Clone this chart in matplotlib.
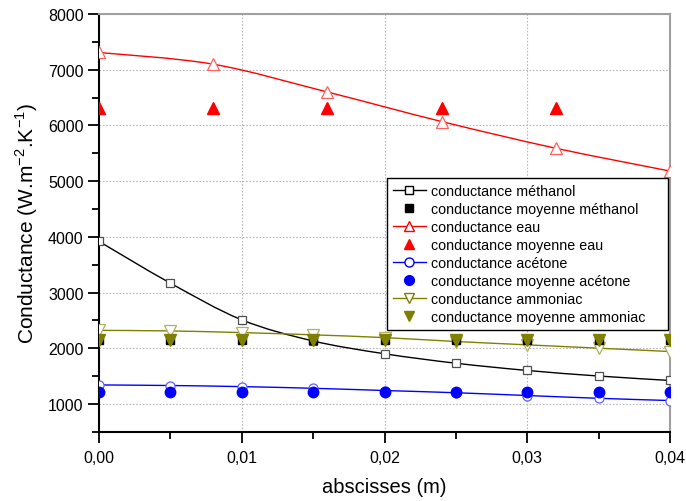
import numpy as np
import matplotlib
matplotlib.use("Agg")
import matplotlib.pyplot as plt
from matplotlib.path import Path
from matplotlib.patches import PathPatch
from matplotlib.lines import Line2D
from matplotlib.ticker import MultipleLocator, FuncFormatter

plt.rcParams['font.family'] = ['Liberation Sans', 'DejaVu Sans']

# ---- data ----
x_eau = [0.0, 0.008, 0.016, 0.024, 0.032, 0.04]
eau = [7310, 7100, 6600, 6070, 5590, 5180]
eau_moy = [6320, 6320, 6320, 6320, 6320]
x_eau_moy = [0.0, 0.008, 0.016, 0.024, 0.032]

x_std = [0.0, 0.005, 0.01, 0.015, 0.02, 0.025, 0.03, 0.035, 0.04]
methanol = [3920, 3170, 2510, 2130, 1900, 1730, 1600, 1500, 1420]
methanol_moy = [2150] * 9
acetone = [1340, 1330, 1310, 1280, 1240, 1200, 1150, 1100, 1060]
acetone_moy = [1220] * 9
ammoniac = [2320, 2310, 2280, 2240, 2190, 2120, 2060, 2000, 1940]
ammoniac_moy = [2150] * 9

labels = ["conductance méthanol", "conductance moyenne méthanol",
          "conductance eau", "conductance moyenne eau",
          "conductance acétone", "conductance moyenne acétone",
          "conductance ammoniac", "conductance moyenne ammoniac"]


def smooth_path(xs, ys):
    P = np.column_stack([xs, ys]).astype(float)
    n = len(P)
    verts = [P[0]]
    codes = [Path.MOVETO]
    for i in range(n - 1):
        p0 = P[i - 1] if i > 0 else P[i]
        p1 = P[i]
        p2 = P[i + 1]
        p3 = P[i + 2] if i + 2 < n else P[i + 1]
        c1 = p1 + (p2 - p0) / 6.0
        c2 = p2 - (p3 - p1) / 6.0
        verts += [c1, c2, p2]
        codes += [Path.CURVE4] * 3
    return Path(verts, codes)


fig = plt.figure(figsize=(6.86, 5.02), dpi=100)
fig.patch.set_facecolor('white')
ax = fig.add_axes([0.144, 0.138, 0.833, 0.832])

BLK = '#000000'
RED = '#ff0000'
BLU = '#0000ff'
OLV = '#808000'

series = [
    (x_std, methanol, BLK, 's', '#505050', 6),
    (x_eau, eau, RED, '^', '#ff6060', 8),
    (x_std, acetone, BLU, 'o', '#6060ff', 6.5),
    (x_std, ammoniac, OLV, 'v', '#b0b060', 8),
]
for xs, ys, c, m, ec, ms in series:
    ax.add_patch(PathPatch(smooth_path(xs, ys), fill=False, edgecolor=c, lw=1.0, zorder=3))
    ax.plot(xs, ys, linestyle='none', marker=m, mfc='white', mec=ec, ms=ms, mew=0.9, zorder=4)

ax.plot(x_std, methanol_moy, linestyle='none', marker='s', color=BLK, ms=6, zorder=5)
ax.plot(x_eau_moy, eau_moy, linestyle='none', marker='^', color=RED, ms=8.5, zorder=5)
ax.plot(x_std, acetone_moy, linestyle='none', marker='o', color=BLU, ms=7.5, zorder=5)
ax.plot(x_std, ammoniac_moy, linestyle='none', marker='v', color=OLV, ms=8.5, zorder=6)

ax.set_xlim(0, 0.04)
ax.set_ylim(500, 8000)
ax.xaxis.set_major_locator(MultipleLocator(0.01))
ax.xaxis.set_minor_locator(MultipleLocator(0.005))
ax.yaxis.set_major_locator(MultipleLocator(1000))
ax.yaxis.set_minor_locator(MultipleLocator(500))
ax.xaxis.set_major_formatter(FuncFormatter(lambda v, p: f"{v:.2f}".replace('.', ',')))
ax.yaxis.set_major_formatter(FuncFormatter(lambda v, p: f"{int(round(v))}"))

ax.tick_params(axis='both', which='major', direction='out', length=8, width=1.3,
               labelsize=11.5, colors='black', pad=3)
ax.tick_params(axis='both', which='minor', direction='out', length=5, width=1.3)
ax.tick_params(top=False, right=False, which='both')
ax.xaxis.set_tick_params(pad=5)

ax.grid(True, which='major', linestyle=(0, (1.5, 1.5)), color='#b8b8b8', lw=0.8)
ax.set_axisbelow(True)

for s in ['left', 'bottom']:
    ax.spines[s].set_color('black')
    ax.spines[s].set_linewidth(1.5)
for s in ['top', 'right']:
    ax.spines[s].set_color('#a0a0a0')
    ax.spines[s].set_linewidth(1.5)

ax.set_xlabel("abscisses (m)", fontsize=14.5, labelpad=9)
ax.set_ylabel(r"Conductance (W.m$^{\mathregular{-2}}$.K$^{\mathregular{-1}}$)", fontsize=15, labelpad=6)

handles = [
    Line2D([], [], color=BLK, marker='s', mfc='white', mec=BLK, ms=6, lw=1),
    Line2D([], [], color=BLK, marker='s', linestyle='none', ms=6),
    Line2D([], [], color=RED, marker='^', mfc='white', mec=RED, ms=7.5, lw=1),
    Line2D([], [], color=RED, marker='^', linestyle='none', ms=7.5),
    Line2D([], [], color=BLU, marker='o', mfc='white', mec=BLU, ms=6.5, lw=1),
    Line2D([], [], color=BLU, marker='o', linestyle='none', ms=7),
    Line2D([], [], color=OLV, marker='v', mfc='white', mec=OLV, ms=7.5, lw=1),
    Line2D([], [], color=OLV, marker='v', linestyle='none', ms=7.5),
]
leg = ax.legend(handles, labels, loc='upper left', bbox_to_anchor=(0.5047, 0.0, 0.4918, 0.6074),
                mode='expand',
                fontsize=10.3, frameon=True, fancybox=False, shadow=False,
                borderpad=0.4, labelspacing=0.28, handlelength=2.3, handletextpad=0.35,
                borderaxespad=0.0)
leg.get_frame().set_edgecolor('black')
leg.get_frame().set_linewidth(1.0)
leg.get_frame().set_alpha(1)
leg.set_zorder(10)

fig.savefig("out.png", dpi=100, facecolor='white')
